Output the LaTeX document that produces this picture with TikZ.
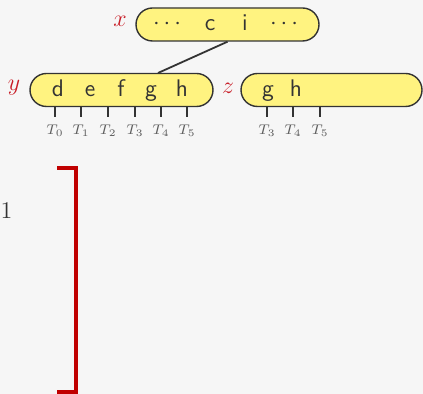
\documentclass[tikz,border=0pt]{standalone}
\usetikzlibrary{calc}
\definecolor{bg}{RGB}{246,246,246}
\definecolor{nodefill}{RGB}{255,243,128}
\definecolor{ink}{RGB}{51,51,51}
\definecolor{lbl}{RGB}{200,30,40}
\definecolor{brk}{RGB}{192,0,0}
\newcommand{\mydots}{${\cdot}\mkern3mu{\cdot}\mkern3mu{\cdot}$}
\tikzset{
  keybox/.style={draw=ink, fill=nodefill, line width=0.7pt, rounded corners=8.25pt, inner sep=0pt, minimum height=16.5pt},
  keytxt/.style={text=ink, font=\sffamily\large, inner sep=0pt, anchor=base},
  tick/.style={draw=ink, line width=0.9pt},
  sub/.style={text=ink!80, font=\scriptsize, inner sep=0pt},
  vlabel/.style={text=lbl, font=\large, inner sep=0pt},
  edge/.style={draw=ink, line width=0.9pt},
}
\begin{document}
\begin{tikzpicture}[x=0.5pt,y=-0.5pt]
\fill[bg] (0,0) rectangle (423,394);
\useasboundingbox (0,0) rectangle (423,394);
% nodes
\node[keybox, minimum width=91.5pt] (xn) at (227.5,24.5) {};
\node[keybox, minimum width=91.5pt] (yn) at (121.5,90) {};
\node[keybox, minimum width=90.5pt] (zn) at (331.5,90) {};
% labels
\node[vlabel] (xl) at (120,21) {$x$};
\node[vlabel] (yl) at (14,88) {$y$};
\node[vlabel] (zl) at (228,88) {$z$};
% keys of x
\node[keytxt] (x1) at (167,30) {\mydots};
\node[keytxt] (x2) at (210,31) {c};
\node[keytxt] (x3) at (245,31) {i};
\node[keytxt] (x4) at (284,30) {\mydots};
% keys of y
\node[keytxt] (y1) at (58,97) {d};
\node[keytxt] (y2) at (90,97) {e};
\node[keytxt] (y3) at (121,97) {f};
\node[keytxt] (y4) at (151,97) {g};
\node[keytxt] (y5) at (182,97) {h};
% keys of z
\node[keytxt] (z1) at (268,97) {g};
\node[keytxt] (z2) at (296,97) {h};
% edge
\coordinate (yg) at (158,73);
\draw[edge] (xn.south) -- (yg);
% ticks of y
\foreach \i/\px in {0/55,1/81,2/108,3/135,4/161,5/187}{
  \coordinate (yt\i) at (\px,107);
  \coordinate (yb\i) at (\px,117);
  \draw[tick] (yt\i) -- (yb\i);
  \node[sub] (ys\i) at (\px,131) {$T_{\i}$};
}
\foreach \i/\px in {3/267,4/293,5/320}{
  \coordinate (zt\i) at (\px,107);
  \coordinate (zb\i) at (\px,117);
  \draw[tick] (zt\i) -- (zb\i);
  \node[sub] (zs\i) at (\px,131) {$T_{\i}$};
}
% one and bracket
\node[text=ink, font=\large, inner sep=0pt] (one) at (6.5,211) {1};
\coordinate (b1) at (57,168);
\coordinate (b2) at (76,168);
\coordinate (b3) at (76,392);
\coordinate (b4) at (57,392);
\draw[brk, line width=2pt] (b1) -- (b2) -- (b3) -- (b4);
\end{tikzpicture}
\end{document}
